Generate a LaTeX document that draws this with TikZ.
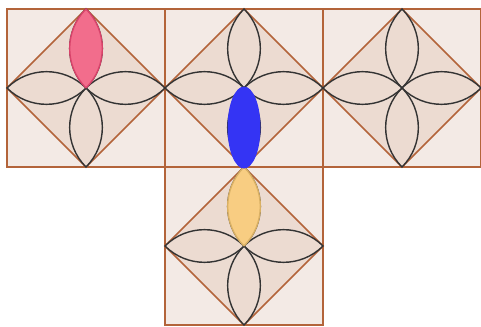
\documentclass[tikz,border=0pt]{standalone}
\usepackage{tikz}
\usetikzlibrary{calc}

\definecolor{tilebg}{HTML}{F3EAE5}
\definecolor{rhombbg}{HTML}{ECDBD1}
\definecolor{edgebrown}{HTML}{B3643A}
\definecolor{petalred}{HTML}{F26D8C}
\definecolor{petalredline}{HTML}{D8436A}
\definecolor{petalblue}{HTML}{3434F4}
\definecolor{petalyellow}{HTML}{F8CD82}
\definecolor{petalyellowline}{HTML}{D9B064}

\begin{document}
\begin{tikzpicture}[
  x=0.02cm, y=-0.02cm,
  tile/.style={draw=edgebrown, fill=tilebg, line width=1pt},
  rhomb/.style={draw=edgebrown, fill=rhombbg, line width=1pt},
  petal/.style={draw=black!80, fill=rhombbg, line width=0.8pt}
]
  \useasboundingbox (0,0) rectangle (481,327);

  % the four tiles of the net
  \foreach \x/\y [count=\i] in {7/9, 165/9, 323/9, 165/167} {
    \draw[tile] (\x,\y) rectangle ++(158,158);
    \coordinate (c\i) at (\x+79,\y+79);
    \coordinate (n\i) at (\x+79,\y);
    \coordinate (s\i) at (\x+79,\y+158);
    \coordinate (e\i) at (\x+158,\y+79);
    \coordinate (w\i) at (\x,\y+79);
  }
  \foreach \i in {1,...,4}
    \draw[rhomb] (n\i) -- (e\i) -- (s\i) -- (w\i) -- cycle;

  % four petals in every tile
  \foreach \i in {1,...,4}
    \foreach \d in {n,e,s,w}
      \draw[petal] (c\i) to[bend left=45] (\d\i) to[bend left=45] (c\i);

  % coloured petals
  \draw[petal, draw=petalredline, fill=petalred] (c1) to[bend left=45] (n1) to[bend left=45] (c1);
  \draw[petal, draw=petalyellowline, fill=petalyellow] (c4) to[bend left=45] (n4) to[bend left=45] (c4);
  \fill[petalblue] ($(c2)!0.5!(s2)$) ellipse [x radius=0.33cm, y radius=0.82cm];
\end{tikzpicture}
\end{document}
